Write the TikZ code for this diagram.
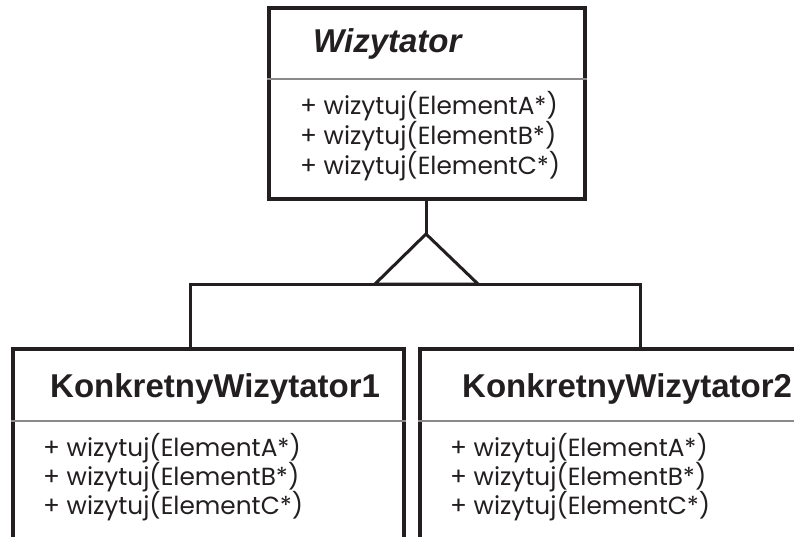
\documentclass[tikz,border=0pt]{standalone}
\usepackage{fontspec}
\setmainfont{Liberation Sans}
\newfontfamily\headfont{Liberation Sans}
\newfontfamily\memberfont{Poppins}
\definecolor{ink}{HTML}{231F20}
\definecolor{rule}{HTML}{8A8A8A}
\tikzset{
  umlbox/.style={draw=ink, line width=3.2pt, rectangle, inner sep=0pt},
  divider/.style={draw=rule, line width=1.8pt},
  link/.style={draw=ink, line width=3pt, line join=miter},
  classname/.style={anchor=base west, inner sep=0pt, text=ink,
    font=\headfont\bfseries\fontsize{33}{40}\selectfont},
  member/.style={anchor=base west, inner sep=0pt, text=ink,
    font=\memberfont\fontsize{24.8}{30}\selectfont},
}
\begin{document}
\begin{tikzpicture}[x=1pt, y=-1pt]
\useasboundingbox (0,0) rectangle (794,537);
\clip (0,0) rectangle (794,537);

% abstract visitor
\node[umlbox, minimum width=316pt, minimum height=191pt] (wiz) at (427,103.5) {};
\draw[divider] (wiz.west |- 0,79) -- (wiz.east |- 0,79);
\node[classname, font=\headfont\bfseries\itshape\fontsize{33}{40}\selectfont] (wizname) at (313,53) {Wizytator};
\node[member] (wa) at (300,115) {+ wizytuj(ElementA*)};
\node[member] (wb) at (300,145) {+ wizytuj(ElementB*)};
\node[member] (wc) at (300,175) {+ wizytuj(ElementC*)};

% concrete visitors (running off the page)
\node[umlbox, minimum width=391pt, minimum height=240pt] (k1) at (208.5,469) {};
\draw[divider] (k1.west |- 0,421) -- (k1.east |- 0,421);
\node[classname] (k1name) at (50,397) {KonkretnyWizytator1};
\node[member] (k1a) at (43,456) {+ wizytuj(ElementA*)};
\node[member] (k1b) at (43,485) {+ wizytuj(ElementB*)};
\node[member] (k1c) at (43,514) {+ wizytuj(ElementC*)};

\node[umlbox, minimum width=420pt, minimum height=240pt] (k2) at (630,469) {};
\draw[divider] (k2.west |- 0,421) -- (k2.east |- 0,421);
\node[classname] (k2name) at (462,397) {KonkretnyWizytator2};
\node[member] (k2a) at (450,456) {+ wizytuj(ElementA*)};
\node[member] (k2b) at (450,485) {+ wizytuj(ElementB*)};
\node[member] (k2c) at (450,514) {+ wizytuj(ElementC*)};

% generalization: hollow triangle and branching line
\coordinate (apex) at (426,234);
\coordinate (baseL) at (375,284);
\coordinate (baseR) at (478,284);
\coordinate (bendL) at (190,284);
\coordinate (bendR) at (640,284);
\draw[link] (wiz.south -| apex) -- (apex);
\draw[link] (apex) -- (baseL) -- (baseR) -- cycle;
\draw[link] (k1.north -| bendL) -- (bendL) -- (bendR) -- (k2.north -| bendR);
\end{tikzpicture}
\end{document}
